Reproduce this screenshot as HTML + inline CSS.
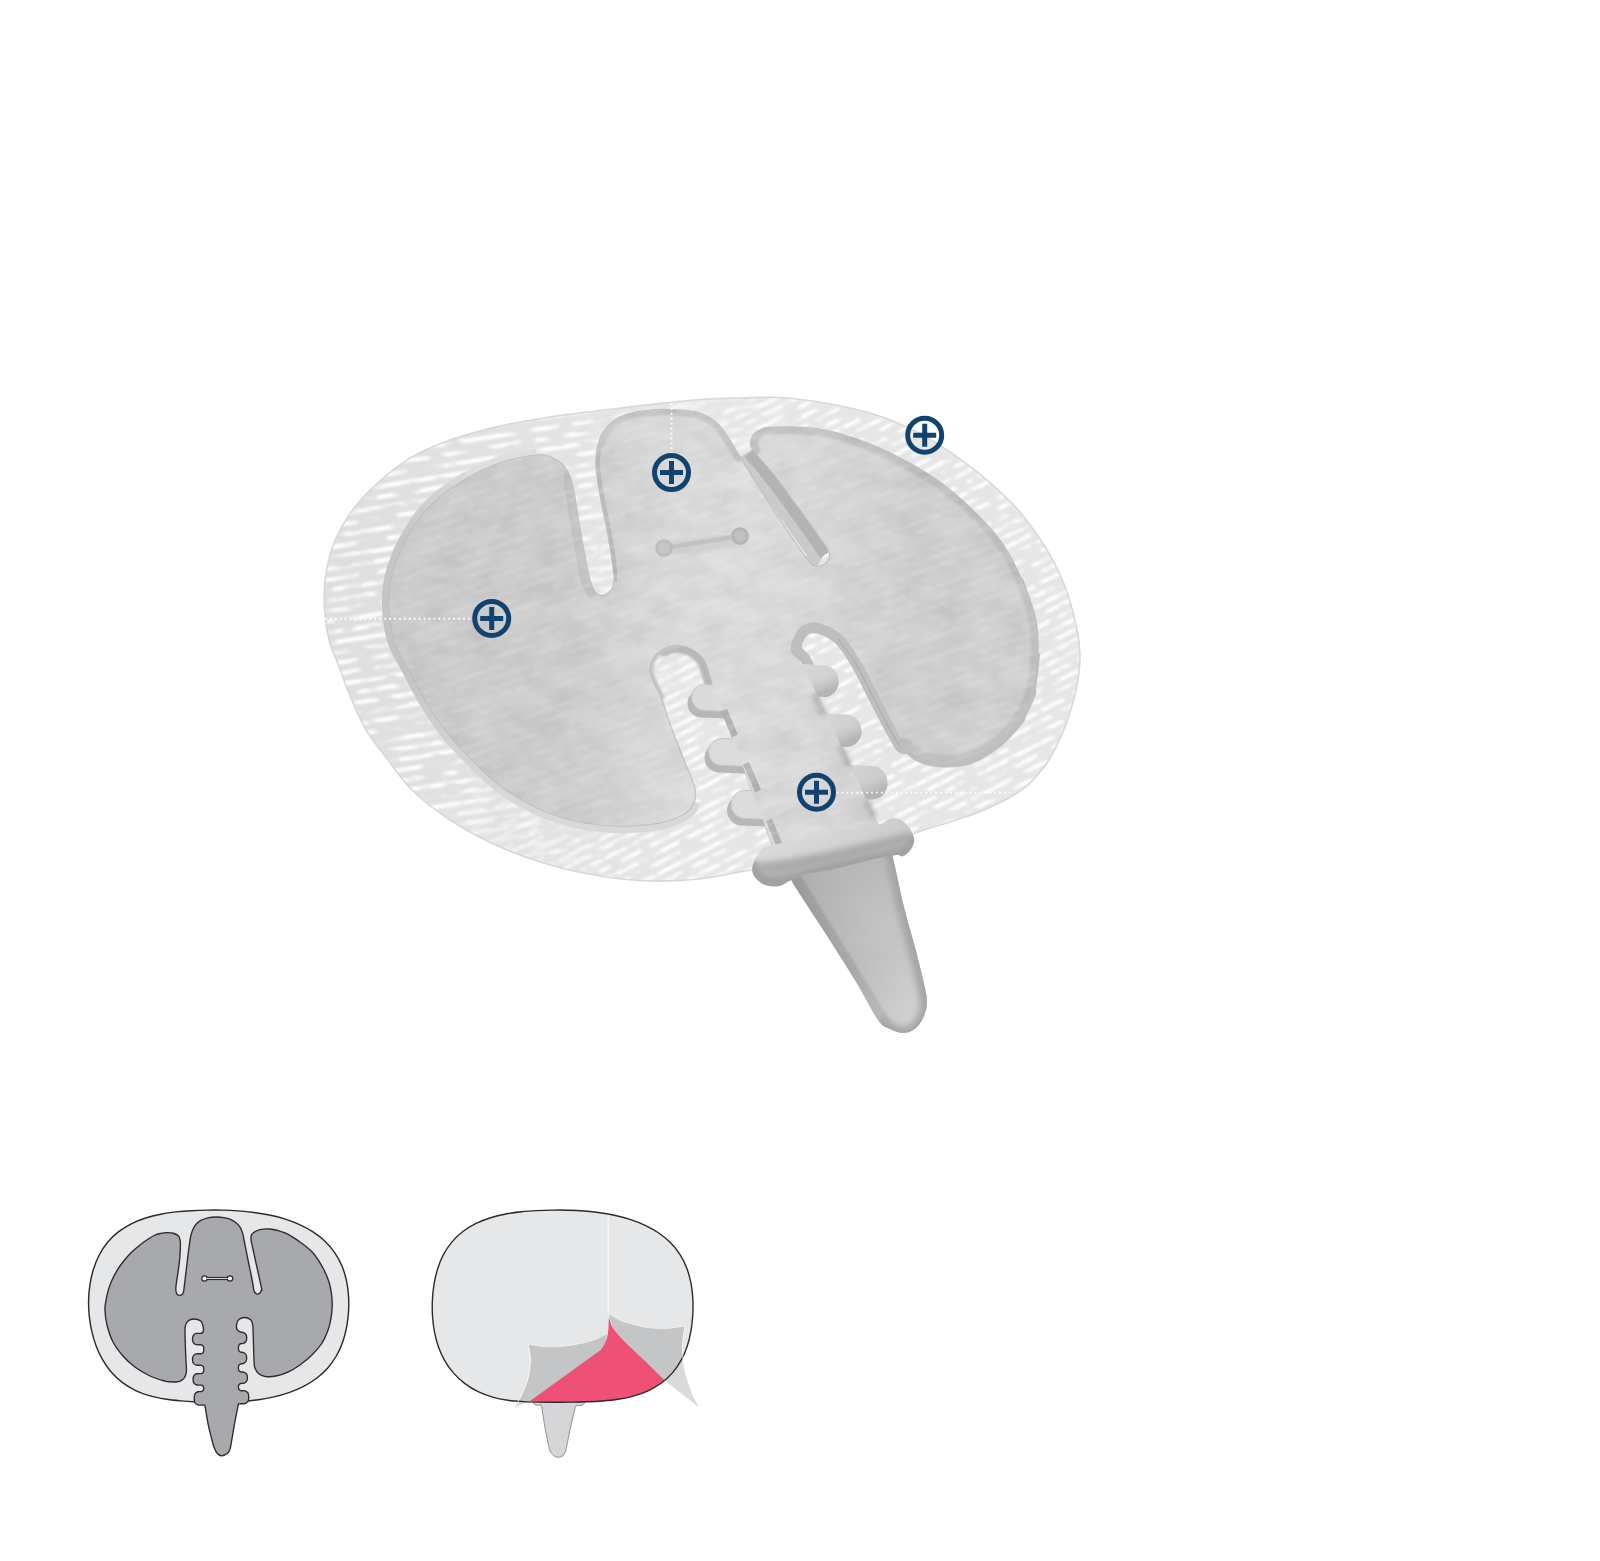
<!DOCTYPE html>
<html lang="en">
<head>
<meta charset="utf-8">
<title>Product hotspots</title>
<style>
html,body{margin:0;padding:0;background:#fff;}
body{width:1600px;height:1561px;overflow:hidden;font-family:"Liberation Sans",sans-serif;}
#stage{position:relative;width:1600px;height:1561px;}
svg{position:absolute;left:0;top:0;display:block;}
</style>
</head>
<body>
<div id="stage">
<svg width="1600" height="1561" viewBox="0 0 1600 1561">
<defs>
<linearGradient id="gSil" gradientUnits="userSpaceOnUse" x1="385" y1="0" x2="1040" y2="0">
<stop offset="0" stop-color="#c9c9c9"/><stop offset="0.28" stop-color="#cbcbcb"/><stop offset="0.42" stop-color="#d9d9d9"/>
<stop offset="0.55" stop-color="#dcdcdc"/><stop offset="0.68" stop-color="#d6d6d6"/><stop offset="0.8" stop-color="#cdcdcd"/><stop offset="1" stop-color="#cecece"/>
</linearGradient>
<linearGradient id="gCone" gradientUnits="userSpaceOnUse" x1="827" y1="936" x2="907.8" y2="886">
<stop offset="0" stop-color="#a5a5a5"/><stop offset="0.085" stop-color="#a9a9a9"/><stop offset="0.115" stop-color="#bcbcbc"/><stop offset="0.5" stop-color="#c4c4c4"/><stop offset="1" stop-color="#c6c6c6"/>
</linearGradient>
<linearGradient id="gConeAxis" gradientUnits="userSpaceOnUse" x1="840" y1="865" x2="905" y2="1030">
<stop offset="0" stop-color="#000" stop-opacity="0.07"/><stop offset="0.45" stop-color="#000" stop-opacity="0"/><stop offset="0.55" stop-color="#fff" stop-opacity="0"/><stop offset="1" stop-color="#fff" stop-opacity="0.3"/>
</linearGradient>
<pattern id="stripes" width="40" height="9.5" patternUnits="userSpaceOnUse" patternTransform="rotate(-19)">
<rect x="0" y="2" width="40" height="4" fill="#ffffff"/>
</pattern>
<pattern id="stripesA" width="40" height="10.5" patternUnits="userSpaceOnUse" patternTransform="rotate(-9)">
<rect x="0" y="2" width="40" height="4.5" fill="#ffffff"/>
</pattern>
<pattern id="stripesB" width="40" height="9.5" patternUnits="userSpaceOnUse" patternTransform="rotate(-27)">
<rect x="0" y="2" width="40" height="4" fill="#ffffff"/>
</pattern>
<linearGradient id="mgA" gradientUnits="userSpaceOnUse" x1="330" y1="560" x2="820" y2="760">
<stop offset="0" stop-color="#fff"/><stop offset="0.35" stop-color="#fff"/><stop offset="0.8" stop-color="#000"/><stop offset="1" stop-color="#000"/>
</linearGradient>
<linearGradient id="mgB" gradientUnits="userSpaceOnUse" x1="330" y1="560" x2="820" y2="760">
<stop offset="0" stop-color="#000"/><stop offset="0.3" stop-color="#000"/><stop offset="0.75" stop-color="#fff"/><stop offset="1" stop-color="#fff"/>
</linearGradient>
<mask id="maskA" maskUnits="userSpaceOnUse" x="300" y="380" width="800" height="520"><rect x="300" y="380" width="800" height="520" fill="url(#mgA)"/></mask>
<mask id="maskB" maskUnits="userSpaceOnUse" x="300" y="380" width="800" height="520"><rect x="300" y="380" width="800" height="520" fill="url(#mgB)"/></mask>
<filter id="streakB" x="0" y="0" width="100%" height="100%" color-interpolation-filters="sRGB">
<feTurbulence type="fractalNoise" baseFrequency="0.05 0.1" numOctaves="2" seed="23" result="n"/>
<feColorMatrix in="n" type="matrix" values="0 0 0 0 0  0 0 0 0 0  0 0 0 0 0  5 0 0 0 -1.85" result="a"/>
<feComposite in="SourceGraphic" in2="a" operator="in" result="c"/>
<feGaussianBlur in="c" stdDeviation="0.8"/>
</filter>
<filter id="streak" x="0" y="0" width="100%" height="100%" color-interpolation-filters="sRGB">
<feTurbulence type="fractalNoise" baseFrequency="0.045 0.09" numOctaves="2" seed="7" result="n"/>
<feColorMatrix in="n" type="matrix" values="0 0 0 0 0  0 0 0 0 0  0 0 0 0 0  5 0 0 0 -1.9" result="a"/>
<feComposite in="SourceGraphic" in2="a" operator="in" result="c"/>
<feGaussianBlur in="c" stdDeviation="0.8"/>
</filter>
<linearGradient id="gCollar" gradientUnits="userSpaceOnUse" x1="826" y1="832" x2="836" y2="880">
<stop offset="0" stop-color="#c8c8c8" stop-opacity="0"/><stop offset="0.3" stop-color="#c4c4c4" stop-opacity="0.15"/><stop offset="0.5" stop-color="#b4b4b4" stop-opacity="0.85"/><stop offset="0.78" stop-color="#adadad" stop-opacity="1"/><stop offset="1" stop-color="#b8b8b8" stop-opacity="1"/>
</linearGradient>
<linearGradient id="gFab" gradientUnits="userSpaceOnUse" x1="320" y1="0" x2="1080" y2="0">
<stop offset="0" stop-color="#dedede"/><stop offset="0.25" stop-color="#e2e2e2"/><stop offset="0.5" stop-color="#e6e6e6"/><stop offset="1" stop-color="#e6e6e6"/>
</linearGradient>
<linearGradient id="gRidge" x1="0.25" y1="0" x2="0.9" y2="1">
<stop offset="0" stop-color="#dddddd" stop-opacity="0.25"/><stop offset="0.5" stop-color="#b0b0b0" stop-opacity="0.1"/><stop offset="1" stop-color="#8c8c8c" stop-opacity="0.6"/>
</linearGradient>
<linearGradient id="gRim" gradientUnits="userSpaceOnUse" x1="0" y1="470" x2="0" y2="800">
<stop offset="0" stop-color="#dedede"/><stop offset="0.06" stop-color="#d2d2d2"/><stop offset="0.2" stop-color="#c6c6c6"/><stop offset="0.6" stop-color="#c3c3c3"/><stop offset="0.85" stop-color="#d3d3d3"/><stop offset="1" stop-color="#d8d8d8"/>
</linearGradient>
<filter id="soft" x="-5%" y="-5%" width="110%" height="110%"><feGaussianBlur stdDeviation="0.7"/></filter>
<filter id="mottle" x="0" y="0" width="100%" height="100%" color-interpolation-filters="sRGB">
<feTurbulence type="fractalNoise" baseFrequency="0.03 0.045" numOctaves="3" seed="5" result="n"/>
<feColorMatrix in="n" type="matrix" values="0.9 0 0 0 0.36  0.9 0 0 0 0.36  0.9 0 0 0 0.36  0 0 0 0 1"/>
</filter>
<filter id="blur1" x="-20%" y="-20%" width="140%" height="140%"><feGaussianBlur stdDeviation="1.3"/></filter>
<filter id="blur3" x="-30%" y="-30%" width="160%" height="160%"><feGaussianBlur stdDeviation="3"/></filter>
<filter id="blur2" x="-20%" y="-20%" width="140%" height="140%"><feGaussianBlur stdDeviation="2"/></filter>
<filter id="blur4" x="-20%" y="-20%" width="140%" height="140%"><feGaussianBlur stdDeviation="4"/></filter>

<path id="silShape" d="M537.0 455.0C546.2 454.3 550.0 456.5 555.0 459.0C560.0 461.5 564.0 465.3 567.0 470.0C570.0 474.7 571.3 480.3 573.0 487.0C574.7 493.7 575.3 500.3 577.0 510.0C578.7 519.7 580.8 533.3 583.0 545.0C585.2 556.7 587.7 571.8 590.0 580.0C592.3 588.2 594.2 591.7 597.0 594.0C599.8 596.3 604.2 596.0 607.0 594.0C609.8 592.0 613.2 587.7 614.0 582.0C614.8 576.3 613.2 568.7 612.0 560.0C610.8 551.3 609.0 540.8 607.0 530.0C605.0 519.2 601.8 505.8 600.0 495.0C598.2 484.2 596.3 473.3 596.0 465.0C595.7 456.7 596.3 451.2 598.0 445.0C599.7 438.8 602.0 432.8 606.0 428.0C610.0 423.2 614.7 419.0 622.0 416.0C629.3 413.0 640.3 411.0 650.0 410.0C659.7 409.0 671.7 409.5 680.0 410.0C688.3 410.5 694.0 411.0 700.0 413.0C706.0 415.0 711.3 418.0 716.0 422.0C720.7 426.0 724.0 431.2 728.0 437.0C732.0 442.8 734.3 447.8 740.0 457.0C745.7 466.2 754.2 479.8 762.0 492.0C769.8 504.2 779.3 518.7 787.0 530.0C794.7 541.3 803.0 554.0 808.0 560.0C813.0 566.0 813.8 565.7 817.0 566.0C820.2 566.3 825.0 564.3 827.0 562.0C829.0 559.7 830.2 556.0 829.0 552.0C827.8 548.0 825.7 546.2 820.0 538.0C814.3 529.8 803.3 514.3 795.0 503.0C786.7 491.7 777.0 478.8 770.0 470.0C763.0 461.2 756.2 455.0 753.0 450.0C749.8 445.0 750.2 443.2 751.0 440.0C751.8 436.8 754.0 433.2 758.0 431.0C762.0 428.8 763.8 427.2 775.0 427.0C786.2 426.8 808.3 426.8 825.0 430.0C841.7 433.2 858.3 439.0 875.0 446.0C891.7 453.0 910.5 463.0 925.0 472.0C939.5 481.0 949.5 488.7 962.0 500.0C974.5 511.3 990.0 526.7 1000.0 540.0C1010.0 553.3 1016.2 566.7 1022.0 580.0C1027.8 593.3 1032.5 607.5 1035.0 620.0C1037.5 632.5 1037.5 643.0 1037.0 655.0C1036.5 667.0 1034.8 681.5 1032.0 692.0C1029.2 702.5 1025.5 709.8 1020.0 718.0C1014.5 726.2 1007.2 734.3 999.0 741.0C990.8 747.7 980.0 754.5 971.0 758.0C962.0 761.5 953.5 762.2 945.0 762.0C936.5 761.8 926.8 760.0 920.0 757.0C913.2 754.0 908.8 750.0 904.0 744.0C899.2 738.0 895.8 730.0 891.0 721.0C886.2 712.0 880.2 700.0 875.0 690.0C869.8 680.0 865.5 670.0 860.0 661.0C854.5 652.0 848.7 642.2 842.0 636.0C835.3 629.8 826.5 625.7 820.0 624.0C813.5 622.3 807.5 623.3 803.0 626.0C798.5 628.7 794.8 635.7 793.0 640.0C791.2 644.3 790.7 648.5 792.0 652.0C793.3 655.5 798.0 658.0 801.0 661.0C828.0 718.3 855.0 775.7 882.0 833.0C847.0 841.3 812.0 849.7 777.0 858.0C755.3 799.7 733.7 741.3 712.0 683.0C711.5 681.3 711.8 681.8 710.5 678.0C709.2 674.2 707.2 664.8 704.0 660.0C700.8 655.2 696.2 651.4 691.5 649.0C686.8 646.6 680.6 645.6 676.0 645.5C671.4 645.4 667.8 646.3 664.0 648.5C660.2 650.7 655.3 654.8 653.0 658.5C650.7 662.2 649.8 666.9 650.0 671.0C650.2 675.1 652.2 678.7 654.0 683.0C655.8 687.3 658.7 691.2 661.0 697.0C663.3 702.8 665.5 710.8 668.0 718.0C670.5 725.2 673.3 733.0 676.0 740.0C678.7 747.0 681.4 753.7 684.0 760.0C686.6 766.3 689.7 773.2 691.5 778.0C693.3 782.8 694.5 785.2 695.0 789.0C695.5 792.8 695.8 797.2 694.5 801.0C693.2 804.8 691.4 808.7 687.0 812.0C682.6 815.3 675.0 818.8 668.0 821.0C661.0 823.2 654.3 824.2 645.0 825.0C635.7 825.8 623.7 826.7 612.0 826.0C600.3 825.3 587.5 824.0 575.0 821.0C562.5 818.0 549.5 813.8 537.0 808.0C524.5 802.2 511.2 794.3 500.0 786.0C488.8 777.7 479.2 767.3 470.0 758.0C460.8 748.7 452.5 739.7 445.0 730.0C437.5 720.3 431.2 710.3 425.0 700.0C418.8 689.7 413.2 678.0 408.0 668.0C402.8 658.0 397.2 650.5 394.0 640.0C390.8 629.5 389.3 615.8 389.0 605.0C388.7 594.2 389.3 585.5 392.0 575.0C394.7 564.5 399.0 553.2 405.0 542.0C411.0 530.8 418.2 518.3 428.0 508.0C437.8 497.7 452.0 487.5 464.0 480.0C476.0 472.5 487.8 467.2 500.0 463.0C512.2 458.8 527.8 455.7 537.0 455.0Z"/>
<clipPath id="clipFab"><path d="M700.0 399.5C715.0 398.4 726.7 398.3 740.0 398.0C753.3 397.7 765.8 396.7 780.0 397.5C794.2 398.3 809.2 400.2 825.0 403.0C840.8 405.8 860.0 409.8 875.0 414.5C890.0 419.2 902.5 424.8 915.0 431.0C927.5 437.2 938.0 443.8 950.0 452.0C962.0 460.2 975.3 470.0 987.0 480.0C998.7 490.0 1009.5 499.5 1020.0 512.0C1030.5 524.5 1042.2 541.7 1050.0 555.0C1057.8 568.3 1062.5 579.5 1067.0 592.0C1071.5 604.5 1074.8 619.5 1077.0 630.0C1079.2 640.5 1079.8 646.7 1080.0 655.0C1080.2 663.3 1079.2 672.0 1078.0 680.0C1076.8 688.0 1075.5 694.3 1073.0 703.0C1070.5 711.7 1067.0 722.5 1063.0 732.0C1059.0 741.5 1054.8 751.2 1049.0 760.0C1043.2 768.8 1035.0 778.5 1028.0 785.0C1021.0 791.5 1015.2 794.5 1007.0 799.0C998.8 803.5 988.5 808.2 979.0 812.0C969.5 815.8 960.7 818.5 950.0 822.0C939.3 825.5 926.7 828.7 915.0 833.0C903.3 837.3 895.8 843.2 880.0 848.0C864.2 852.8 841.3 858.3 820.0 862.0C798.7 865.7 772.0 867.2 752.0 870.0C732.0 872.8 717.0 877.2 700.0 879.0C683.0 880.8 666.7 881.5 650.0 881.0C633.3 880.5 616.7 878.7 600.0 876.0C583.3 873.3 566.7 869.8 550.0 865.0C533.3 860.2 516.7 854.5 500.0 847.0C483.3 839.5 464.7 829.5 450.0 820.0C435.3 810.5 422.3 800.0 412.0 790.0C401.7 780.0 395.7 770.0 388.0 760.0C380.3 750.0 372.3 740.7 366.0 730.0C359.7 719.3 354.7 707.0 350.0 696.0C345.3 685.0 341.5 673.3 338.0 664.0C334.5 654.7 331.2 649.0 329.0 640.0C326.8 631.0 325.1 620.5 324.5 610.0C323.9 599.5 323.9 588.2 325.5 577.0C327.1 565.8 329.2 554.5 334.0 543.0C338.8 531.5 346.2 518.5 354.0 508.0C361.8 497.5 371.3 488.5 381.0 480.0C390.7 471.5 400.5 463.7 412.0 457.0C423.5 450.3 435.3 445.2 450.0 440.0C464.7 434.8 483.3 429.8 500.0 426.0C516.7 422.2 533.3 419.6 550.0 417.0C566.7 414.4 583.3 412.6 600.0 410.5C616.7 408.4 633.3 406.3 650.0 404.5C666.7 402.7 685.0 400.6 700.0 399.5Z"/></clipPath>
<clipPath id="clipSil"><use href="#silShape"/></clipPath>
</defs>
<g clip-path="url(#clipFab)">
<rect x="300" y="380" width="800" height="520" fill="url(#gFab)"/>
<g mask="url(#maskA)"><rect x="300" y="380" width="800" height="520" fill="url(#stripesA)" filter="url(#streak)" opacity="0.95"/></g>
<g mask="url(#maskB)"><rect x="300" y="380" width="800" height="520" fill="url(#stripesB)" filter="url(#streakB)" opacity="0.95"/></g>
</g>
<path d="M700.0 399.5C715.0 398.4 726.7 398.3 740.0 398.0C753.3 397.7 765.8 396.7 780.0 397.5C794.2 398.3 809.2 400.2 825.0 403.0C840.8 405.8 860.0 409.8 875.0 414.5C890.0 419.2 902.5 424.8 915.0 431.0C927.5 437.2 938.0 443.8 950.0 452.0C962.0 460.2 975.3 470.0 987.0 480.0C998.7 490.0 1009.5 499.5 1020.0 512.0C1030.5 524.5 1042.2 541.7 1050.0 555.0C1057.8 568.3 1062.5 579.5 1067.0 592.0C1071.5 604.5 1074.8 619.5 1077.0 630.0C1079.2 640.5 1079.8 646.7 1080.0 655.0C1080.2 663.3 1079.2 672.0 1078.0 680.0C1076.8 688.0 1075.5 694.3 1073.0 703.0C1070.5 711.7 1067.0 722.5 1063.0 732.0C1059.0 741.5 1054.8 751.2 1049.0 760.0C1043.2 768.8 1035.0 778.5 1028.0 785.0C1021.0 791.5 1015.2 794.5 1007.0 799.0C998.8 803.5 988.5 808.2 979.0 812.0C969.5 815.8 960.7 818.5 950.0 822.0C939.3 825.5 926.7 828.7 915.0 833.0C903.3 837.3 895.8 843.2 880.0 848.0C864.2 852.8 841.3 858.3 820.0 862.0C798.7 865.7 772.0 867.2 752.0 870.0C732.0 872.8 717.0 877.2 700.0 879.0C683.0 880.8 666.7 881.5 650.0 881.0C633.3 880.5 616.7 878.7 600.0 876.0C583.3 873.3 566.7 869.8 550.0 865.0C533.3 860.2 516.7 854.5 500.0 847.0C483.3 839.5 464.7 829.5 450.0 820.0C435.3 810.5 422.3 800.0 412.0 790.0C401.7 780.0 395.7 770.0 388.0 760.0C380.3 750.0 372.3 740.7 366.0 730.0C359.7 719.3 354.7 707.0 350.0 696.0C345.3 685.0 341.5 673.3 338.0 664.0C334.5 654.7 331.2 649.0 329.0 640.0C326.8 631.0 325.1 620.5 324.5 610.0C323.9 599.5 323.9 588.2 325.5 577.0C327.1 565.8 329.2 554.5 334.0 543.0C338.8 531.5 346.2 518.5 354.0 508.0C361.8 497.5 371.3 488.5 381.0 480.0C390.7 471.5 400.5 463.7 412.0 457.0C423.5 450.3 435.3 445.2 450.0 440.0C464.7 434.8 483.3 429.8 500.0 426.0C516.7 422.2 533.3 419.6 550.0 417.0C566.7 414.4 583.3 412.6 600.0 410.5C616.7 408.4 633.3 406.3 650.0 404.5C666.7 402.7 685.0 400.6 700.0 399.5Z" fill="none" stroke="#d2d2d2" stroke-width="1.6" opacity="0.8" filter="url(#soft)"/>
<g fill="none" stroke-linecap="butt" stroke-linejoin="round" filter="url(#soft)">
<path d="M694.5 801.0C693.2 802.8 691.4 808.7 687.0 812.0C682.6 815.3 675.0 818.8 668.0 821.0C661.0 823.2 654.3 824.2 645.0 825.0C635.7 825.8 623.7 826.7 612.0 826.0C600.3 825.3 587.5 824.0 575.0 821.0C562.5 818.0 549.5 813.8 537.0 808.0C524.5 802.2 511.2 794.3 500.0 786.0C488.8 777.7 479.2 767.3 470.0 758.0C460.8 748.7 452.5 739.7 445.0 730.0C437.5 720.3 431.2 710.3 425.0 700.0C418.8 689.7 413.2 678.0 408.0 668.0C402.8 658.0 397.2 650.5 394.0 640.0C390.8 629.5 389.3 615.8 389.0 605.0C388.7 594.2 389.3 585.5 392.0 575.0C394.7 564.5 399.0 553.2 405.0 542.0C411.0 530.8 418.2 518.3 428.0 508.0C437.8 497.7 452.0 487.5 464.0 480.0C476.0 472.5 487.8 467.2 500.0 463.0C512.2 458.8 530.8 456.3 537.0 455.0" stroke="url(#gRim)" stroke-width="14"/>
<path d="M740.0 457.0C743.7 462.8 754.2 479.8 762.0 492.0C769.8 504.2 779.3 518.7 787.0 530.0C794.7 541.3 803.0 554.0 808.0 560.0C813.0 566.0 815.5 565.0 817.0 566.0" stroke="#cacaca" stroke-width="36"/>
<path d="M829.0 552.0C827.5 549.7 825.7 546.2 820.0 538.0C814.3 529.8 803.3 514.3 795.0 503.0C786.7 491.7 777.0 478.8 770.0 470.0C763.0 461.2 755.8 453.3 753.0 450.0" stroke="#b3b3b3" stroke-width="22"/>
<path d="M1022.0 580.0C1024.2 586.7 1032.5 607.5 1035.0 620.0C1037.5 632.5 1037.5 643.0 1037.0 655.0C1036.5 667.0 1034.8 681.5 1032.0 692.0C1029.2 702.5 1025.5 709.8 1020.0 718.0C1014.5 726.2 1007.2 734.3 999.0 741.0C990.8 747.7 980.0 754.5 971.0 758.0C962.0 761.5 953.5 762.2 945.0 762.0C936.5 761.8 926.8 760.0 920.0 757.0C913.2 754.0 906.7 746.2 904.0 744.0" stroke="#bebebe" stroke-width="3" stroke-linecap="round"/>
<path d="M1037.0 655.0C1036.2 661.2 1034.8 681.5 1032.0 692.0C1029.2 702.5 1025.5 709.8 1020.0 718.0C1014.5 726.2 1007.2 734.3 999.0 741.0C990.8 747.7 980.0 754.5 971.0 758.0C962.0 761.5 953.5 762.2 945.0 762.0C936.5 761.8 926.8 760.0 920.0 757.0C913.2 754.0 906.7 746.2 904.0 744.0" stroke="#bebebe" stroke-width="6" stroke-linecap="round"/>
<path d="M1032.0 692.0C1030.0 696.3 1025.5 709.8 1020.0 718.0C1014.5 726.2 1007.2 734.3 999.0 741.0C990.8 747.7 980.0 754.5 971.0 758.0C962.0 761.5 953.5 762.2 945.0 762.0C936.5 761.8 926.8 760.0 920.0 757.0C913.2 754.0 906.7 746.2 904.0 744.0" stroke="#bebebe" stroke-width="9" stroke-linecap="round"/>
<path d="M1020.0 718.0C1016.5 721.8 1007.2 734.3 999.0 741.0C990.8 747.7 980.0 754.5 971.0 758.0C962.0 761.5 953.5 762.2 945.0 762.0C936.5 761.8 926.8 760.0 920.0 757.0C913.2 754.0 906.7 746.2 904.0 744.0" stroke="#bebebe" stroke-width="11" stroke-linecap="round"/>
<path d="M904.0 744.0C901.8 740.2 895.8 730.0 891.0 721.0C886.2 712.0 880.2 700.0 875.0 690.0C869.8 680.0 865.5 670.0 860.0 661.0C854.5 652.0 848.7 642.2 842.0 636.0C835.3 629.8 826.5 625.7 820.0 624.0C813.5 622.3 807.5 623.3 803.0 626.0C798.5 628.7 794.8 635.7 793.0 640.0C791.2 644.3 792.2 650.0 792.0 652.0 L801 661 L809 678" stroke="#bebebe" stroke-width="20" stroke-linecap="round"/>
<path d="M904.0 744.0C901.8 740.2 895.8 730.0 891.0 721.0C886.2 712.0 880.2 700.0 875.0 690.0C869.8 680.0 865.5 670.0 860.0 661.0C854.5 652.0 845.0 640.2 842.0 636.0" stroke="#adadad" stroke-width="1.2" transform="translate(-4,3)"/>
<path d="M712.0 683.0C711.8 682.2 711.8 681.8 710.5 678.0C709.2 674.2 707.2 664.8 704.0 660.0C700.8 655.2 696.2 651.4 691.5 649.0C686.8 646.6 680.6 645.6 676.0 645.5C671.4 645.4 666.0 648.0 664.0 648.5" stroke="#b8b8b8" stroke-width="15" stroke-linecap="round" filter="url(#blur1)"/>
<path d="M676.0 645.5C674.0 646.0 667.8 646.3 664.0 648.5C660.2 650.7 655.3 654.8 653.0 658.5C650.7 662.2 649.8 666.9 650.0 671.0C650.2 675.1 652.2 678.7 654.0 683.0C655.8 687.3 659.8 694.7 661.0 697.0" stroke="#c4c4c4" stroke-width="7" stroke-linecap="round" filter="url(#blur1)"/>
</g>
<path d="M748 474 L806 556" stroke="#ededed" stroke-width="2" fill="none" stroke-linecap="round" filter="url(#soft)"/>
<g filter="url(#soft)">
<use href="#silShape" fill="url(#gSil)" stroke="#bebebe" stroke-width="1.2"/>
</g>
<g fill="none" stroke-linecap="butt" clip-path="url(#clipSil)" filter="url(#soft)">
<path d="M567.0 470.0C568.0 472.8 571.3 480.3 573.0 487.0C574.7 493.7 575.3 500.3 577.0 510.0C578.7 519.7 580.8 533.3 583.0 545.0C585.2 556.7 587.7 571.8 590.0 580.0C592.3 588.2 595.8 591.7 597.0 594.0" stroke="#bfbfbf" stroke-width="18"/>
<path d="M614.0 582.0C613.7 578.3 613.2 568.7 612.0 560.0C610.8 551.3 609.0 540.8 607.0 530.0C605.0 519.2 601.8 505.8 600.0 495.0C598.2 484.2 596.3 473.3 596.0 465.0C595.7 456.7 597.7 448.3 598.0 445.0" stroke="#b9b9b9" stroke-width="8"/>
</g>
<g fill="none" stroke-linecap="round" clip-path="url(#clipSil)" filter="url(#blur1)">
<path d="M598.0 445.0C599.3 442.2 602.0 432.8 606.0 428.0C610.0 423.2 614.7 419.0 622.0 416.0C629.3 413.0 640.3 411.0 650.0 410.0C659.7 409.0 671.7 409.5 680.0 410.0C688.3 410.5 694.0 411.0 700.0 413.0C706.0 415.0 711.3 418.0 716.0 422.0C720.7 426.0 724.0 431.2 728.0 437.0C732.0 442.8 738.0 453.7 740.0 457.0" stroke="#c3c3c3" stroke-width="12"/>
<path d="M753.0 450.0C752.7 448.3 750.2 443.2 751.0 440.0C751.8 436.8 754.0 433.2 758.0 431.0C762.0 428.8 763.8 427.2 775.0 427.0C786.2 426.8 808.3 426.8 825.0 430.0C841.7 433.2 858.3 439.0 875.0 446.0C891.7 453.0 916.7 467.7 925.0 472.0" stroke="#bfbfbf" stroke-width="14"/>
<path d="M925.0 472.0C931.2 476.7 949.5 488.7 962.0 500.0C974.5 511.3 990.0 526.7 1000.0 540.0C1010.0 553.3 1016.2 566.7 1022.0 580.0C1027.8 593.3 1032.5 607.5 1035.0 620.0C1037.5 632.5 1037.5 643.0 1037.0 655.0C1036.5 667.0 1034.8 681.5 1032.0 692.0C1029.2 702.5 1025.5 709.8 1020.0 718.0C1014.5 726.2 1007.2 734.3 999.0 741.0C990.8 747.7 980.0 754.5 971.0 758.0C962.0 761.5 953.5 762.2 945.0 762.0C936.5 761.8 926.8 760.0 920.0 757.0C913.2 754.0 906.7 746.2 904.0 744.0" stroke="#bebebe" stroke-width="13"/>
</g>
<g filter="url(#soft)">
<path d="M729.5 712.5 L704.0 711.5 A14.0 14.0 0 0 1 705.0 683.5 L730.5 684.5 A14.0 14.0 0 0 1 729.5 712.5 Z" fill="#b7b7b7" transform="translate(-3,6)"/>
<path d="M747.4 767.5 L721.4 766.5 A14.5 14.5 0 0 1 722.6 737.5 L748.6 738.5 A14.5 14.5 0 0 1 747.4 767.5 Z" fill="#b7b7b7" transform="translate(-3,6)"/>
<path d="M769.4 820.5 L744.4 819.5 A15.0 15.0 0 0 1 745.6 789.5 L770.6 790.5 A15.0 15.0 0 0 1 769.4 820.5 Z" fill="#b7b7b7" transform="translate(-3,6)"/>
<path d="M800.9 663.5 L824.9 665.0 A14.5 14.5 0 0 1 823.1 694.0 L799.1 692.5 A14.5 14.5 0 0 1 800.9 663.5 Z" fill="#b4b4b4" transform="translate(0,3)"/>
<path d="M822.6 713.0 L847.1 714.0 A15.0 15.0 0 0 1 845.9 744.0 L821.4 743.0 A15.0 15.0 0 0 1 822.6 713.0 Z" fill="#b4b4b4" transform="translate(0,3)"/>
<path d="M846.6 764.5 L872.6 765.5 A15.5 15.5 0 0 1 871.4 796.5 L845.4 795.5 A15.5 15.5 0 0 1 846.6 764.5 Z" fill="#b4b4b4" transform="translate(0,3)"/>
<path d="M729.5 711.5 L704.0 710.5 A13.0 13.0 0 0 1 705.0 684.5 L730.5 685.5 A13.0 13.0 0 0 1 729.5 711.5 Z" fill="url(#gSil)" stroke="#c6c6c6" stroke-width="1"/>
<path d="M747.5 766.5 L721.5 765.5 A13.5 13.5 0 0 1 722.5 738.5 L748.5 739.5 A13.5 13.5 0 0 1 747.5 766.5 Z" fill="url(#gSil)" stroke="#c6c6c6" stroke-width="1"/>
<path d="M769.4 819.5 L744.4 818.5 A14.0 14.0 0 0 1 745.6 790.5 L770.6 791.5 A14.0 14.0 0 0 1 769.4 819.5 Z" fill="url(#gSil)" stroke="#c6c6c6" stroke-width="1"/>
<path d="M800.9 664.0 L824.9 665.5 A14.0 14.0 0 0 1 823.1 693.5 L799.1 692.0 A14.0 14.0 0 0 1 800.9 664.0 Z" fill="url(#gSil)"/>
<path d="M800.9 664.0 L824.9 665.5 A14.0 14.0 0 0 1 823.1 693.5 L799.1 692.0 A14.0 14.0 0 0 1 800.9 664.0 Z" fill="url(#gRidge)"/>
<path d="M822.6 713.5 L847.1 714.5 A14.5 14.5 0 0 1 845.9 743.5 L821.4 742.5 A14.5 14.5 0 0 1 822.6 713.5 Z" fill="url(#gSil)"/>
<path d="M822.6 713.5 L847.1 714.5 A14.5 14.5 0 0 1 845.9 743.5 L821.4 742.5 A14.5 14.5 0 0 1 822.6 713.5 Z" fill="url(#gRidge)"/>
<path d="M846.6 765.0 L872.6 766.0 A15.0 15.0 0 0 1 871.4 796.0 L845.4 795.0 A15.0 15.0 0 0 1 846.6 765.0 Z" fill="url(#gSil)"/>
<path d="M846.6 765.0 L872.6 766.0 A15.0 15.0 0 0 1 871.4 796.0 L845.4 795.0 A15.0 15.0 0 0 1 846.6 765.0 Z" fill="url(#gRidge)"/>
<path d="M801 661 L882 833 L777 858 L712 683 Z" fill="url(#gSil)"/>
<path d="M722 711 L733 737 M744 764 L756 792 M767 821 L777 845" stroke="#adadad" stroke-width="6.5" fill="none" transform="translate(2,-1)"/>
</g>
<path d="M817 694 L827 716 M842 745 L853 767 M869 800 L877 818" stroke="#b2b2b2" stroke-width="7" fill="none" transform="translate(-3,0)" filter="url(#blur2)" opacity="0.8"/>
<g clip-path="url(#clipSil)" opacity="0.1"><rect x="380" y="400" width="670" height="470" filter="url(#mottle)"/></g>
<g clip-path="url(#clipSil)" opacity="0.13">
<rect x="380" y="400" width="670" height="450" fill="url(#stripes)" filter="url(#streak)"/>
</g>
<g filter="url(#soft)">
<path d="M780.0 858.0C783.3 864.7 786.5 871.7 790.0 878.0C793.5 884.3 794.8 886.3 801.0 896.0C807.2 905.7 817.8 921.7 827.0 936.0C836.2 950.3 847.5 968.0 856.0 982.0C864.5 996.0 872.3 1012.2 878.0 1020.0C883.7 1027.8 885.7 1026.8 890.0 1029.0C894.3 1031.2 899.7 1033.2 904.0 1033.0C908.3 1032.8 912.7 1030.8 916.0 1028.0C919.3 1025.2 922.2 1020.2 924.0 1016.0C925.8 1011.8 926.8 1007.7 927.0 1003.0C927.2 998.3 926.8 996.7 925.0 988.0C923.2 979.3 919.5 964.5 916.0 951.0C912.5 937.5 907.8 922.5 904.0 907.0C900.2 891.5 895.7 868.8 893.0 858.0C890.3 847.2 889.7 847.3 888.0 842.0C852.0 847.3 816.0 852.7 780.0 858.0Z" fill="url(#gCone)"/>
<path d="M780.0 858.0C783.3 864.7 786.5 871.7 790.0 878.0C793.5 884.3 794.8 886.3 801.0 896.0C807.2 905.7 817.8 921.7 827.0 936.0C836.2 950.3 847.5 968.0 856.0 982.0C864.5 996.0 872.3 1012.2 878.0 1020.0C883.7 1027.8 885.7 1026.8 890.0 1029.0C894.3 1031.2 899.7 1033.2 904.0 1033.0C908.3 1032.8 912.7 1030.8 916.0 1028.0C919.3 1025.2 922.2 1020.2 924.0 1016.0C925.8 1011.8 926.8 1007.7 927.0 1003.0C927.2 998.3 926.8 996.7 925.0 988.0C923.2 979.3 919.5 964.5 916.0 951.0C912.5 937.5 907.8 922.5 904.0 907.0C900.2 891.5 895.7 868.8 893.0 858.0C890.3 847.2 889.7 847.3 888.0 842.0C852.0 847.3 816.0 852.7 780.0 858.0Z" fill="url(#gConeAxis)"/>
<clipPath id="clipCone"><path d="M780.0 858.0C783.3 864.7 786.5 871.7 790.0 878.0C793.5 884.3 794.8 886.3 801.0 896.0C807.2 905.7 817.8 921.7 827.0 936.0C836.2 950.3 847.5 968.0 856.0 982.0C864.5 996.0 872.3 1012.2 878.0 1020.0C883.7 1027.8 885.7 1026.8 890.0 1029.0C894.3 1031.2 899.7 1033.2 904.0 1033.0C908.3 1032.8 912.7 1030.8 916.0 1028.0C919.3 1025.2 922.2 1020.2 924.0 1016.0C925.8 1011.8 926.8 1007.7 927.0 1003.0C927.2 998.3 926.8 996.7 925.0 988.0C923.2 979.3 919.5 964.5 916.0 951.0C912.5 937.5 907.8 922.5 904.0 907.0C900.2 891.5 895.7 868.8 893.0 858.0C890.3 847.2 889.7 847.3 888.0 842.0C852.0 847.3 816.0 852.7 780.0 858.0Z"/></clipPath>
<g clip-path="url(#clipCone)"><path d="M890 842 L893 858 L904 907 L916 951 L925 988 L928 1004 L925 1018 L916 1030 L904 1035 L890 1031 L878 1022" stroke="#a2a2a2" stroke-width="15" fill="none" stroke-linejoin="round" filter="url(#blur3)" opacity="0.9"/></g>
<path d="M777.7 844.0C767.0 846.1 769.0 844.7 765.5 846.5C762.0 848.3 759.2 851.3 757.0 855.0C754.8 858.7 752.5 864.8 752.3 868.6C752.1 872.4 753.5 875.3 755.7 878.0C757.9 880.7 761.5 883.7 765.4 885.0C769.3 886.3 775.1 886.7 779.0 886.0C782.9 885.3 785.0 882.8 789.0 881.0C793.0 879.2 796.2 876.8 803.0 875.0C809.8 873.2 818.8 872.5 830.0 870.0C841.2 867.5 859.0 862.5 870.0 860.0C881.0 857.5 890.5 855.7 896.0 855.0C901.5 854.3 900.5 857.0 903.0 856.0C905.5 855.0 909.2 851.9 911.0 849.0C912.8 846.1 914.5 842.2 914.0 838.4C913.5 834.6 910.5 829.2 908.0 826.0C905.5 822.8 901.9 820.2 898.7 819.0C895.5 817.8 892.5 818.1 889.0 819.0C885.5 819.9 887.8 822.1 878.0 824.6C868.2 827.1 846.7 830.8 830.0 834.0C813.3 837.2 788.5 841.9 777.7 844.0Z" fill="url(#gSil)"/>
<path d="M777.7 844.0C767.0 846.1 769.0 844.7 765.5 846.5C762.0 848.3 759.2 851.3 757.0 855.0C754.8 858.7 752.5 864.8 752.3 868.6C752.1 872.4 753.5 875.3 755.7 878.0C757.9 880.7 761.5 883.7 765.4 885.0C769.3 886.3 775.1 886.7 779.0 886.0C782.9 885.3 785.0 882.8 789.0 881.0C793.0 879.2 796.2 876.8 803.0 875.0C809.8 873.2 818.8 872.5 830.0 870.0C841.2 867.5 859.0 862.5 870.0 860.0C881.0 857.5 890.5 855.7 896.0 855.0C901.5 854.3 900.5 857.0 903.0 856.0C905.5 855.0 909.2 851.9 911.0 849.0C912.8 846.1 914.5 842.2 914.0 838.4C913.5 834.6 910.5 829.2 908.0 826.0C905.5 822.8 901.9 820.2 898.7 819.0C895.5 817.8 892.5 818.1 889.0 819.0C885.5 819.9 887.8 822.1 878.0 824.6C868.2 827.1 846.7 830.8 830.0 834.0C813.3 837.2 788.5 841.9 777.7 844.0Z" fill="url(#gCollar)"/>
<clipPath id="clipCollar"><path d="M777.7 844.0C767.0 846.1 769.0 844.7 765.5 846.5C762.0 848.3 759.2 851.3 757.0 855.0C754.8 858.7 752.5 864.8 752.3 868.6C752.1 872.4 753.5 875.3 755.7 878.0C757.9 880.7 761.5 883.7 765.4 885.0C769.3 886.3 775.1 886.7 779.0 886.0C782.9 885.3 785.0 882.8 789.0 881.0C793.0 879.2 796.2 876.8 803.0 875.0C809.8 873.2 818.8 872.5 830.0 870.0C841.2 867.5 859.0 862.5 870.0 860.0C881.0 857.5 890.5 855.7 896.0 855.0C901.5 854.3 900.5 857.0 903.0 856.0C905.5 855.0 909.2 851.9 911.0 849.0C912.8 846.1 914.5 842.2 914.0 838.4C913.5 834.6 910.5 829.2 908.0 826.0C905.5 822.8 901.9 820.2 898.7 819.0C895.5 817.8 892.5 818.1 889.0 819.0C885.5 819.9 887.8 822.1 878.0 824.6C868.2 827.1 846.7 830.8 830.0 834.0C813.3 837.2 788.5 841.9 777.7 844.0Z"/></clipPath>
<g clip-path="url(#clipCollar)"><path d="M750 862 C752 880 762 890 789 884 C820 874 860 866 898 857 C910 855 916 848 916 836" stroke="#a0a0a0" stroke-width="16" fill="none" filter="url(#blur2)" opacity="0.9"/><path d="M756 868 C800 866 860 850 912 836" stroke="#a4a4a4" stroke-width="9" fill="none" filter="url(#blur3)" opacity="0.8"/></g>
</g>
<g filter="url(#soft)" opacity="0.9">
<path d="M662 551 L742 538" stroke="#cfcfcf" stroke-width="14" stroke-linecap="round" filter="url(#blur2)"/>
<path d="M664 548 L740 536" stroke="#c0c0c0" stroke-width="4.5" stroke-linecap="round"/>
<circle cx="664" cy="548" r="7.5" fill="#c4c4c4" stroke="#b9b9b9" stroke-width="2.5"/>
<circle cx="740" cy="536" r="7.5" fill="#bcbcbc" stroke="#b0b0b0" stroke-width="2.5"/>
</g>
<g stroke="#ffffff" stroke-width="1.9" stroke-dasharray="1.9 3.03" fill="none" opacity="0.95">
<path d="M671.5 403 V453"/>
<path d="M325 618.8 H472"/>
<path d="M836.5 792.6 H1011"/>
</g>
<g transform="translate(671.5,472.6)"><circle r="17" fill="none" stroke="#12426f" stroke-width="5"/><path d="M-11.5 0H11.5M0 -11.5V11.5" stroke="#12426f" stroke-width="5" fill="none"/></g>
<g transform="translate(924.7,435.3)"><circle r="17" fill="none" stroke="#12426f" stroke-width="5"/><path d="M-11.5 0H11.5M0 -11.5V11.5" stroke="#12426f" stroke-width="5" fill="none"/></g>
<g transform="translate(491.7,618.4)"><circle r="17" fill="none" stroke="#12426f" stroke-width="5"/><path d="M-11.5 0H11.5M0 -11.5V11.5" stroke="#12426f" stroke-width="5" fill="none"/></g>
<g transform="translate(816.5,792.2)"><circle r="17" fill="none" stroke="#12426f" stroke-width="5"/><path d="M-11.5 0H11.5M0 -11.5V11.5" stroke="#12426f" stroke-width="5" fill="none"/></g>
<g transform="translate(71,1190) scale(0.1875)">
<path d="M93.8 587.1C94.4 559.6 96.9 531.9 101.1 504.8C105.4 477.7 111.2 450.4 119.3 424.3C127.4 398.2 137.3 372.3 149.8 348.2C162.2 324.2 177.1 300.8 194.2 280.0C211.3 259.2 231.1 240.1 252.4 223.4C273.6 206.8 297.3 192.6 321.6 180.2C345.9 167.9 371.9 158.0 398.0 149.5C424.1 141.0 451.2 134.5 478.2 129.1C505.3 123.6 532.8 119.9 560.4 116.8C587.9 113.7 615.6 111.8 643.3 110.3C671.1 108.7 698.9 107.8 726.6 107.3C754.4 106.9 782.2 106.8 810.0 107.5C837.7 108.1 865.5 109.3 893.2 111.3C920.8 113.4 948.5 116.1 976.0 119.8C1003.4 123.4 1030.9 127.8 1058.0 133.5C1085.1 139.2 1112.1 145.7 1138.4 153.9C1164.7 162.2 1191.0 171.5 1216.0 182.8C1241.0 194.0 1265.8 206.6 1288.7 221.5C1311.5 236.3 1333.6 253.0 1353.2 271.7C1372.8 290.4 1390.9 311.3 1406.2 333.6C1421.5 355.8 1434.6 380.2 1445.1 405.2C1455.6 430.1 1463.3 456.8 1469.1 483.4C1475.0 510.1 1478.3 537.7 1480.2 565.1C1482.0 592.5 1481.9 620.3 1480.3 647.7C1478.6 675.2 1475.3 702.8 1470.2 729.8C1465.0 756.7 1458.5 783.8 1449.4 809.5C1440.4 835.2 1429.4 860.7 1415.9 884.1C1402.4 907.6 1386.3 930.0 1368.3 950.2C1350.3 970.4 1329.7 988.9 1308.0 1005.3C1286.4 1021.6 1262.5 1035.9 1238.2 1048.4C1213.9 1061.0 1188.1 1071.4 1162.2 1080.6C1136.2 1089.8 1109.4 1097.2 1082.5 1103.5C1055.7 1109.8 1028.3 1114.6 1000.9 1118.5C973.5 1122.5 945.8 1125.2 918.2 1127.4C890.5 1129.6 862.7 1130.9 835.0 1131.8C807.2 1132.6 779.4 1132.9 751.7 1132.7C723.9 1132.5 696.1 1131.8 668.4 1130.4C640.6 1129.1 612.9 1127.4 585.3 1124.8C557.7 1122.2 530.0 1119.4 502.7 1115.0C475.5 1110.5 448.1 1105.5 421.8 1098.0C395.5 1090.4 369.3 1081.3 344.8 1069.6C320.3 1057.8 296.5 1043.8 274.9 1027.5C253.4 1011.2 233.2 992.2 215.4 971.8C197.7 951.5 181.9 928.7 168.2 905.1C154.6 881.6 143.2 856.3 133.6 830.6C123.9 805.0 116.4 778.2 110.4 751.4C104.3 724.6 99.9 697.1 97.1 669.7C94.3 642.3 93.1 614.6 93.8 587.1Z" fill="#e6e7e8" stroke="#2e2829" stroke-width="7.6"/>
<path d="M181.0 640.0C180.2 617.8 183.8 605.3 187.0 587.0C190.2 568.7 194.7 547.8 200.0 530.0C205.3 512.2 211.5 496.7 219.0 480.0C226.5 463.3 235.3 446.0 245.0 430.0C254.7 414.0 264.5 399.8 277.0 384.0C289.5 368.2 304.8 350.2 320.0 335.0C335.2 319.8 353.3 304.8 368.0 293.0C382.7 281.2 394.7 272.8 408.0 264.0C421.3 255.2 436.0 245.5 448.0 240.0C460.0 234.5 469.3 233.2 480.0 231.0C490.7 228.8 500.3 226.8 512.0 227.0C523.7 227.2 539.5 228.7 550.0 232.0C560.5 235.3 569.5 239.8 575.0 247.0C580.5 254.2 582.0 257.5 583.0 275.0C584.0 292.5 582.8 326.2 581.0 352.0C579.2 377.8 575.5 403.3 572.0 430.0C568.5 456.7 562.0 493.7 560.0 512.0C558.0 530.3 559.0 532.7 560.0 540.0C561.0 547.3 562.8 552.3 566.0 556.0C569.2 559.7 574.3 562.0 579.0 562.0C583.7 562.0 590.3 559.7 594.0 556.0C597.7 552.3 599.5 545.5 601.0 540.0C602.5 534.5 600.5 543.8 603.0 523.0C605.5 502.2 611.7 450.7 616.0 415.0C620.3 379.3 625.0 338.2 629.0 309.0C633.0 279.8 635.2 259.0 640.0 240.0C644.8 221.0 650.0 207.5 658.0 195.0C666.0 182.5 676.0 172.7 688.0 165.0C700.0 157.3 715.8 152.5 730.0 149.0C744.2 145.5 758.8 144.3 773.0 144.0C787.2 143.7 802.5 145.2 815.0 147.0C827.5 148.8 837.2 150.3 848.0 155.0C858.8 159.7 871.2 168.0 880.0 175.0C888.8 182.0 895.2 187.8 901.0 197.0C906.8 206.2 911.3 218.3 915.0 230.0C918.7 241.7 918.2 243.2 923.0 267.0C927.8 290.8 938.2 344.2 944.0 373.0C949.8 401.8 953.5 417.7 958.0 440.0C962.5 462.3 968.2 491.2 971.0 507.0C973.8 522.8 972.8 527.7 975.0 535.0C977.2 542.3 980.5 547.7 984.0 551.0C987.5 554.3 991.8 555.5 996.0 555.0C1000.2 554.5 1005.7 551.8 1009.0 548.0C1012.3 544.2 1014.8 536.3 1016.0 532.0C1017.2 527.7 1020.5 544.0 1016.0 522.0C1011.5 500.0 995.3 428.7 989.0 400.0C982.7 371.3 981.5 366.0 978.0 350.0C974.5 334.0 970.8 317.3 968.0 304.0C965.2 290.7 962.2 279.8 961.0 270.0C959.8 260.2 959.3 251.8 961.0 245.0C962.7 238.2 963.2 234.7 971.0 229.0C978.8 223.3 993.0 214.5 1008.0 211.0C1023.0 207.5 1045.7 207.3 1061.0 208.0C1076.3 208.7 1086.7 211.5 1100.0 215.0C1113.3 218.5 1127.7 223.2 1141.0 229.0C1154.3 234.8 1166.7 242.0 1180.0 250.0C1193.3 258.0 1202.5 262.7 1221.0 277.0C1239.5 291.3 1270.5 312.8 1291.0 336.0C1311.5 359.2 1329.8 390.2 1344.0 416.0C1358.2 441.8 1368.3 467.0 1376.0 491.0C1383.7 515.0 1387.2 540.2 1390.0 560.0C1392.8 579.8 1392.8 595.0 1393.0 610.0C1393.2 625.0 1392.3 636.2 1391.0 650.0C1389.7 663.8 1388.3 676.8 1385.0 693.0C1381.7 709.2 1378.7 726.5 1371.0 747.0C1363.3 767.5 1353.3 793.8 1339.0 816.0C1324.7 838.2 1304.7 860.5 1285.0 880.0C1265.3 899.5 1242.3 917.8 1221.0 933.0C1199.7 948.2 1178.3 961.2 1157.0 971.0C1135.7 980.8 1112.5 988.0 1093.0 992.0C1073.5 996.0 1055.0 996.8 1040.0 995.0C1025.0 993.2 1012.8 988.7 1003.0 981.0C993.2 973.3 985.5 961.3 981.0 949.0C976.5 936.7 977.7 940.7 976.0 907.0C974.3 873.3 972.3 779.0 971.0 747.0C969.7 715.0 970.2 724.2 968.0 715.0C965.8 705.8 965.2 697.8 958.0 692.0C950.8 686.2 935.7 680.0 925.0 680.0C914.3 680.0 901.0 685.7 894.0 692.0C887.0 698.3 884.3 709.2 883.0 718.0C881.7 726.8 882.3 738.3 886.0 745.0C889.7 751.7 899.8 755.7 905.0 758.0C910.2 760.3 912.5 757.2 917.0 759.0C921.5 760.8 928.7 764.0 932.0 769.0C935.3 774.0 937.0 782.3 937.0 789.0C937.0 795.7 935.3 804.0 932.0 809.0C928.7 814.0 921.5 817.2 917.0 819.0C912.5 820.8 908.7 818.5 905.0 820.0C901.3 821.5 897.0 824.2 895.0 828.0C893.0 831.8 893.0 837.7 893.0 842.5C893.0 847.3 893.0 853.2 895.0 857.0C897.0 860.8 901.3 863.5 905.0 865.0C908.7 866.5 912.5 864.2 917.0 866.0C921.5 867.8 928.7 871.0 932.0 876.0C935.3 881.0 937.0 889.3 937.0 896.0C937.0 902.7 935.3 911.0 932.0 916.0C928.7 921.0 921.5 924.2 917.0 926.0C912.5 927.8 908.7 925.5 905.0 927.0C901.3 928.5 897.0 931.4 895.0 935.0C893.0 938.6 893.0 944.0 893.0 948.5C893.0 953.0 893.0 958.4 895.0 962.0C897.0 965.6 900.7 968.5 905.0 970.0C909.3 971.5 915.8 969.2 921.0 971.0C926.2 972.8 932.7 976.0 936.0 981.0C939.3 986.0 941.0 994.3 941.0 1001.0C941.0 1007.7 939.3 1016.0 936.0 1021.0C932.7 1026.0 926.2 1029.2 921.0 1031.0C915.8 1032.8 909.3 1030.5 905.0 1032.0C900.7 1033.5 897.0 1036.8 895.0 1040.0C893.0 1043.2 893.0 1047.3 893.0 1051.0C893.0 1054.7 893.0 1058.8 895.0 1062.0C897.0 1065.2 899.5 1068.5 905.0 1070.0C910.5 1071.5 921.7 1069.2 928.0 1071.0C934.3 1072.8 939.7 1075.3 943.0 1081.0C946.3 1086.7 948.0 1097.0 948.0 1105.0C948.0 1113.0 946.3 1123.3 943.0 1129.0C939.7 1134.7 934.3 1137.2 928.0 1139.0C921.7 1140.8 910.8 1139.7 905.0 1140.0C899.2 1140.3 897.0 1140.7 893.0 1141.0C886.0 1176.3 878.0 1214.3 872.0 1247.0C866.0 1279.7 861.0 1314.5 857.0 1337.0C853.0 1359.5 851.5 1371.0 848.0 1382.0C844.5 1393.0 843.0 1397.0 836.0 1403.0C829.0 1409.0 814.5 1416.8 806.0 1418.0C797.5 1419.2 790.5 1414.0 785.0 1410.0C779.5 1406.0 777.0 1401.2 773.0 1394.0C769.0 1386.8 765.0 1379.0 761.0 1367.0C757.0 1355.0 754.0 1342.0 749.0 1322.0C744.0 1302.0 736.8 1276.2 731.0 1247.0C725.2 1217.8 719.7 1180.3 714.0 1147.0C708.0 1147.0 702.2 1147.2 696.0 1147.0C689.8 1146.8 682.7 1147.8 677.0 1146.0C671.3 1144.2 665.3 1141.8 662.0 1136.0C658.7 1130.2 657.0 1119.3 657.0 1111.0C657.0 1102.7 658.7 1091.8 662.0 1086.0C665.3 1080.2 671.3 1077.8 677.0 1076.0C682.7 1074.2 691.2 1076.5 696.0 1075.0C700.8 1073.5 704.0 1069.8 706.0 1067.0C708.0 1064.2 708.0 1061.0 708.0 1058.0C708.0 1055.0 708.0 1051.8 706.0 1049.0C704.0 1046.2 701.8 1042.5 696.0 1041.0C690.2 1039.5 677.7 1041.8 671.0 1040.0C664.3 1038.2 659.3 1035.0 656.0 1030.0C652.7 1025.0 651.0 1016.7 651.0 1010.0C651.0 1003.3 652.7 995.0 656.0 990.0C659.3 985.0 664.3 981.8 671.0 980.0C677.7 978.2 690.2 980.5 696.0 979.0C701.8 977.5 704.0 974.7 706.0 971.0C708.0 967.3 708.0 961.7 708.0 957.0C708.0 952.3 708.0 946.7 706.0 943.0C704.0 939.3 702.3 936.5 696.0 935.0C689.7 933.5 675.2 935.8 668.0 934.0C660.8 932.2 656.3 929.0 653.0 924.0C649.7 919.0 648.0 910.7 648.0 904.0C648.0 897.3 649.7 889.0 653.0 884.0C656.3 879.0 660.8 875.8 668.0 874.0C675.2 872.2 689.7 874.5 696.0 873.0C702.3 871.5 704.0 868.9 706.0 865.0C708.0 861.1 708.0 854.7 708.0 849.5C708.0 844.3 708.0 837.9 706.0 834.0C704.0 830.1 702.3 827.5 696.0 826.0C689.7 824.5 675.2 826.8 668.0 825.0C660.8 823.2 656.3 820.0 653.0 815.0C649.7 810.0 648.0 801.7 648.0 795.0C648.0 788.3 649.7 780.0 653.0 775.0C656.3 770.0 660.8 766.8 668.0 765.0C675.2 763.2 689.7 766.2 696.0 764.0C702.3 761.8 704.7 758.5 706.0 752.0C707.3 745.5 706.3 733.8 704.0 725.0C701.7 716.2 700.0 705.2 692.0 699.0C684.0 692.8 667.3 688.0 656.0 688.0C644.7 688.0 631.8 692.0 624.0 699.0C616.2 706.0 611.5 713.2 609.0 730.0C606.5 746.8 608.3 770.5 609.0 800.0C609.7 829.5 611.8 880.3 613.0 907.0C614.2 933.7 616.2 947.0 616.0 960.0C615.8 973.0 614.2 977.8 612.0 985.0C609.8 992.2 607.5 997.5 603.0 1003.0C598.5 1008.5 592.2 1014.5 585.0 1018.0C577.8 1021.5 569.2 1023.2 560.0 1024.0C550.8 1024.8 539.8 1023.8 530.0 1023.0C520.2 1022.2 519.2 1024.2 501.0 1019.0C482.8 1013.8 447.7 1004.5 421.0 992.0C394.3 979.5 365.0 961.8 341.0 944.0C317.0 926.2 296.5 907.2 277.0 885.0C257.5 862.8 238.2 838.5 224.0 811.0C209.8 783.5 199.2 748.5 192.0 720.0C184.8 691.5 181.8 662.2 181.0 640.0Z" fill="#a7a9ac" stroke="#2e2829" stroke-width="7.2" stroke-linejoin="round"/>
<path d="M712 472 H848" stroke="#2e2829" stroke-width="17" fill="none"/>
<circle cx="712" cy="472" r="14.5" fill="#f2f2f3" stroke="#2e2829" stroke-width="6.5"/>
<circle cx="848" cy="472" r="14.5" fill="#f2f2f3" stroke="#2e2829" stroke-width="6.5"/>
<path d="M724 472 H836" stroke="#e4e5e6" stroke-width="5" fill="none"/>
</g>
<g transform="translate(415,1190) scale(0.1875)">
<path d="M629.0 1130.0C633.0 1135.3 634.0 1143.0 641.0 1146.0C648.0 1149.0 661.0 1147.3 671.0 1148.0C672.5 1150.0 672.3 1137.5 675.5 1154.0C678.7 1170.5 685.2 1219.0 690.0 1247.0C694.8 1275.0 699.8 1301.0 704.0 1322.0C708.2 1343.0 711.5 1360.0 715.0 1373.0C718.5 1386.0 719.8 1392.0 725.0 1400.0C730.2 1408.0 739.0 1416.8 746.0 1421.0C753.0 1425.2 760.0 1425.5 767.0 1425.0C774.0 1424.5 782.0 1423.2 788.0 1418.0C794.0 1412.8 799.0 1405.0 803.0 1394.0C807.0 1383.0 807.5 1374.0 812.0 1352.0C816.5 1330.0 824.0 1289.5 830.0 1262.0C836.0 1234.5 843.5 1205.0 848.0 1187.0C852.5 1169.0 854.5 1160.3 857.0 1154.0C859.5 1147.7 861.0 1150.7 863.0 1149.0C873.0 1148.7 885.5 1151.2 893.0 1148.0C900.5 1144.8 903.0 1136.0 908.0 1130.0C815.0 1130.0 722.0 1130.0 629.0 1130.0Z" fill="#d5d6d8" stroke="#8a8a8c" stroke-width="5"/>
<path d="M1032.0 656.0C1044.7 664.7 1055.3 674.0 1070.0 682.0C1084.7 690.0 1093.8 695.8 1120.0 704.0C1146.2 712.2 1191.5 725.2 1227.0 731.0C1262.5 736.8 1297.5 740.0 1333.0 739.0C1368.5 738.0 1404.3 729.7 1440.0 725.0C1436.3 750.0 1431.2 774.2 1429.0 800.0C1426.8 825.8 1426.0 855.2 1427.0 880.0C1428.0 904.8 1430.2 925.0 1435.0 949.0C1439.8 973.0 1448.0 999.0 1456.0 1024.0C1464.0 1049.0 1473.2 1076.3 1483.0 1099.0C1492.8 1121.7 1504.3 1139.7 1515.0 1160.0C1456.3 1113.7 1397.7 1067.3 1339.0 1021.0C1301.7 984.7 1263.5 947.0 1227.0 912.0C1190.5 877.0 1155.7 844.7 1120.0 811.0C1098.7 786.0 1070.7 761.8 1056.0 736.0C1041.3 710.2 1040.0 682.7 1032.0 656.0Z" fill="#d9dadb"/>
<path d="M603.0 821.0C633.0 825.7 660.2 833.2 693.0 835.0C725.8 836.8 764.3 835.7 800.0 832.0C835.7 828.3 877.7 820.0 907.0 813.0C936.3 806.0 956.5 798.3 976.0 790.0C995.5 781.7 1008.0 772.0 1024.0 763.0C1022.3 778.7 1024.7 795.0 1019.0 810.0C1013.3 825.0 999.7 838.7 990.0 853.0C864.3 943.7 738.7 1034.3 613.0 1125.0C585.7 1136.7 558.3 1148.3 531.0 1160.0C537.0 1150.3 541.5 1144.8 549.0 1131.0C556.5 1117.2 567.0 1098.3 576.0 1077.0C585.0 1055.7 596.3 1031.3 603.0 1003.0C609.7 974.7 616.0 937.3 616.0 907.0C616.0 876.7 607.3 849.7 603.0 821.0Z" fill="#d9dadb"/>
<path d="M92.7 587.2C94.0 559.4 96.6 531.4 101.1 504.1C105.7 476.7 111.6 449.2 119.9 422.9C128.2 396.6 138.2 370.5 150.9 346.3C163.6 322.1 178.8 298.7 196.2 277.8C213.6 257.0 233.9 237.8 255.4 221.3C277.0 204.7 301.2 190.5 325.8 178.3C350.4 166.1 376.7 156.4 403.1 148.0C429.6 139.6 456.9 133.3 484.3 128.0C511.6 122.7 539.5 119.1 567.3 116.1C595.1 113.1 623.1 111.4 651.1 109.9C679.0 108.4 707.1 107.6 735.1 107.2C763.1 106.9 791.2 106.9 819.2 107.7C847.2 108.5 875.2 109.9 903.1 112.2C931.1 114.4 959.0 117.3 986.7 121.3C1014.3 125.2 1042.0 129.9 1069.3 135.9C1096.5 142.0 1123.7 149.0 1150.1 157.7C1176.5 166.4 1202.8 176.3 1227.8 188.2C1252.8 200.1 1277.4 213.5 1300.0 229.1C1322.6 244.7 1344.3 262.3 1363.3 281.9C1382.4 301.4 1399.8 323.2 1414.4 346.3C1428.9 369.3 1441.1 394.4 1450.7 420.0C1460.4 445.6 1467.2 472.8 1472.4 499.9C1477.5 527.0 1480.3 555.0 1481.8 582.7C1483.3 610.4 1483.0 638.5 1481.4 666.3C1479.8 694.1 1476.8 722.0 1472.0 749.4C1467.3 776.7 1461.2 804.1 1452.6 830.3C1444.1 856.5 1433.6 882.4 1420.5 906.4C1407.5 930.4 1391.9 953.6 1374.2 974.1C1356.4 994.6 1335.9 1013.4 1314.0 1029.6C1292.1 1045.7 1267.7 1059.4 1242.8 1071.0C1218.0 1082.5 1191.4 1091.5 1164.7 1099.1C1138.1 1106.6 1110.5 1111.8 1083.0 1116.2C1055.5 1120.6 1027.5 1123.1 999.6 1125.3C971.8 1127.6 943.7 1128.6 915.7 1129.6C887.7 1130.7 859.6 1131.0 831.6 1131.4C803.5 1131.8 775.4 1131.9 747.4 1131.8C719.3 1131.8 691.3 1131.8 663.2 1131.3C635.2 1130.7 607.1 1130.3 579.2 1128.6C551.3 1126.9 523.3 1125.1 495.7 1121.1C468.2 1117.1 440.6 1112.2 414.1 1104.6C387.6 1097.0 361.2 1087.6 336.6 1075.6C311.9 1063.7 288.0 1049.3 266.2 1032.8C244.4 1016.3 224.0 997.2 206.0 976.7C188.0 956.1 171.9 933.2 158.3 909.5C144.6 885.7 133.4 860.1 124.2 834.2C115.0 808.2 108.4 781.0 103.3 753.8C98.1 726.6 95.1 698.6 93.3 670.9C91.6 643.1 91.4 615.0 92.7 587.2Z" fill="#e6e7e8"/>
<clipPath id="clipOut2"><path d="M92.7 587.2C94.0 559.4 96.6 531.4 101.1 504.1C105.7 476.7 111.6 449.2 119.9 422.9C128.2 396.6 138.2 370.5 150.9 346.3C163.6 322.1 178.8 298.7 196.2 277.8C213.6 257.0 233.9 237.8 255.4 221.3C277.0 204.7 301.2 190.5 325.8 178.3C350.4 166.1 376.7 156.4 403.1 148.0C429.6 139.6 456.9 133.3 484.3 128.0C511.6 122.7 539.5 119.1 567.3 116.1C595.1 113.1 623.1 111.4 651.1 109.9C679.0 108.4 707.1 107.6 735.1 107.2C763.1 106.9 791.2 106.9 819.2 107.7C847.2 108.5 875.2 109.9 903.1 112.2C931.1 114.4 959.0 117.3 986.7 121.3C1014.3 125.2 1042.0 129.9 1069.3 135.9C1096.5 142.0 1123.7 149.0 1150.1 157.7C1176.5 166.4 1202.8 176.3 1227.8 188.2C1252.8 200.1 1277.4 213.5 1300.0 229.1C1322.6 244.7 1344.3 262.3 1363.3 281.9C1382.4 301.4 1399.8 323.2 1414.4 346.3C1428.9 369.3 1441.1 394.4 1450.7 420.0C1460.4 445.6 1467.2 472.8 1472.4 499.9C1477.5 527.0 1480.3 555.0 1481.8 582.7C1483.3 610.4 1483.0 638.5 1481.4 666.3C1479.8 694.1 1476.8 722.0 1472.0 749.4C1467.3 776.7 1461.2 804.1 1452.6 830.3C1444.1 856.5 1433.6 882.4 1420.5 906.4C1407.5 930.4 1391.9 953.6 1374.2 974.1C1356.4 994.6 1335.9 1013.4 1314.0 1029.6C1292.1 1045.7 1267.7 1059.4 1242.8 1071.0C1218.0 1082.5 1191.4 1091.5 1164.7 1099.1C1138.1 1106.6 1110.5 1111.8 1083.0 1116.2C1055.5 1120.6 1027.5 1123.1 999.6 1125.3C971.8 1127.6 943.7 1128.6 915.7 1129.6C887.7 1130.7 859.6 1131.0 831.6 1131.4C803.5 1131.8 775.4 1131.9 747.4 1131.8C719.3 1131.8 691.3 1131.8 663.2 1131.3C635.2 1130.7 607.1 1130.3 579.2 1128.6C551.3 1126.9 523.3 1125.1 495.7 1121.1C468.2 1117.1 440.6 1112.2 414.1 1104.6C387.6 1097.0 361.2 1087.6 336.6 1075.6C311.9 1063.7 288.0 1049.3 266.2 1032.8C244.4 1016.3 224.0 997.2 206.0 976.7C188.0 956.1 171.9 933.2 158.3 909.5C144.6 885.7 133.4 860.1 124.2 834.2C115.0 808.2 108.4 781.0 103.3 753.8C98.1 726.6 95.1 698.6 93.3 670.9C91.6 643.1 91.4 615.0 92.7 587.2Z"/></clipPath>
<g clip-path="url(#clipOut2)">
<path d="M603.0 821.0C633.0 825.7 660.2 833.2 693.0 835.0C725.8 836.8 764.3 835.7 800.0 832.0C835.7 828.3 877.7 820.0 907.0 813.0C936.3 806.0 956.5 798.3 976.0 790.0C995.5 781.7 1008.0 772.0 1024.0 763.0C1022.3 778.7 1024.7 795.0 1019.0 810.0C1013.3 825.0 999.7 838.7 990.0 853.0C864.3 943.7 738.7 1034.3 613.0 1125.0C585.7 1136.7 558.3 1148.3 531.0 1160.0C537.0 1150.3 541.5 1144.8 549.0 1131.0C556.5 1117.2 567.0 1098.3 576.0 1077.0C585.0 1055.7 596.3 1031.3 603.0 1003.0C609.7 974.7 616.0 937.3 616.0 907.0C616.0 876.7 607.3 849.7 603.0 821.0Z" fill="#c4c5c7" stroke="#f4f4f4" stroke-width="4"/>
<path d="M1032.0 656.0C1044.7 664.7 1055.3 674.0 1070.0 682.0C1084.7 690.0 1093.8 695.8 1120.0 704.0C1146.2 712.2 1191.5 725.2 1227.0 731.0C1262.5 736.8 1297.5 740.0 1333.0 739.0C1368.5 738.0 1404.3 729.7 1440.0 725.0C1436.3 750.0 1431.2 774.2 1429.0 800.0C1426.8 825.8 1426.0 855.2 1427.0 880.0C1428.0 904.8 1430.2 925.0 1435.0 949.0C1439.8 973.0 1448.0 999.0 1456.0 1024.0C1464.0 1049.0 1473.2 1076.3 1483.0 1099.0C1492.8 1121.7 1504.3 1139.7 1515.0 1160.0C1456.3 1113.7 1397.7 1067.3 1339.0 1021.0C1301.7 984.7 1263.5 947.0 1227.0 912.0C1190.5 877.0 1155.7 844.7 1120.0 811.0C1098.7 786.0 1070.7 761.8 1056.0 736.0C1041.3 710.2 1040.0 682.7 1032.0 656.0Z" fill="#c4c5c7" stroke="#f4f4f4" stroke-width="4"/>
<path d="M1034.7 677.0C1032.8 705.7 1032.5 740.0 1029.0 763.0C1025.5 786.0 1020.5 800.0 1014.0 815.0C1007.5 830.0 998.0 840.3 990.0 853.0C864.3 943.7 738.7 1034.3 613.0 1125.0C639.7 1127.3 661.8 1130.8 693.0 1132.0C724.2 1133.2 764.3 1132.2 800.0 1132.0C835.7 1131.8 871.5 1131.9 907.0 1131.0C942.5 1130.1 977.5 1129.2 1013.0 1126.5C1048.5 1123.8 1088.0 1120.6 1120.0 1115.0C1152.0 1109.4 1178.3 1102.0 1205.0 1093.0C1231.7 1084.0 1257.7 1073.0 1280.0 1061.0C1302.3 1049.0 1319.3 1034.3 1339.0 1021.0C1301.7 984.7 1263.5 947.0 1227.0 912.0C1190.5 877.0 1155.7 844.7 1120.0 811.0C1098.7 786.0 1070.2 758.3 1056.0 736.0C1041.8 713.7 1041.8 696.7 1034.7 677.0Z" fill="#ef5076"/>
<path d="M990 853 L613 1125 M1120 811 L1339 1021" stroke="#8d8d8f" stroke-width="2.5" fill="none"/>
</g>
<path d="M1030 124 V652" stroke="#ffffff" stroke-width="5.5" fill="none"/>
<path d="M92.7 587.2C94.0 559.4 96.6 531.4 101.1 504.1C105.7 476.7 111.6 449.2 119.9 422.9C128.2 396.6 138.2 370.5 150.9 346.3C163.6 322.1 178.8 298.7 196.2 277.8C213.6 257.0 233.9 237.8 255.4 221.3C277.0 204.7 301.2 190.5 325.8 178.3C350.4 166.1 376.7 156.4 403.1 148.0C429.6 139.6 456.9 133.3 484.3 128.0C511.6 122.7 539.5 119.1 567.3 116.1C595.1 113.1 623.1 111.4 651.1 109.9C679.0 108.4 707.1 107.6 735.1 107.2C763.1 106.9 791.2 106.9 819.2 107.7C847.2 108.5 875.2 109.9 903.1 112.2C931.1 114.4 959.0 117.3 986.7 121.3C1014.3 125.2 1042.0 129.9 1069.3 135.9C1096.5 142.0 1123.7 149.0 1150.1 157.7C1176.5 166.4 1202.8 176.3 1227.8 188.2C1252.8 200.1 1277.4 213.5 1300.0 229.1C1322.6 244.7 1344.3 262.3 1363.3 281.9C1382.4 301.4 1399.8 323.2 1414.4 346.3C1428.9 369.3 1441.1 394.4 1450.7 420.0C1460.4 445.6 1467.2 472.8 1472.4 499.9C1477.5 527.0 1480.3 555.0 1481.8 582.7C1483.3 610.4 1483.0 638.5 1481.4 666.3C1479.8 694.1 1476.8 722.0 1472.0 749.4C1467.3 776.7 1461.2 804.1 1452.6 830.3C1444.1 856.5 1433.6 882.4 1420.5 906.4C1407.5 930.4 1391.9 953.6 1374.2 974.1C1356.4 994.6 1335.9 1013.4 1314.0 1029.6C1292.1 1045.7 1267.7 1059.4 1242.8 1071.0C1218.0 1082.5 1191.4 1091.5 1164.7 1099.1C1138.1 1106.6 1110.5 1111.8 1083.0 1116.2C1055.5 1120.6 1027.5 1123.1 999.6 1125.3C971.8 1127.6 943.7 1128.6 915.7 1129.6C887.7 1130.7 859.6 1131.0 831.6 1131.4C803.5 1131.8 775.4 1131.9 747.4 1131.8C719.3 1131.8 691.3 1131.8 663.2 1131.3C635.2 1130.7 607.1 1130.3 579.2 1128.6C551.3 1126.9 523.3 1125.1 495.7 1121.1C468.2 1117.1 440.6 1112.2 414.1 1104.6C387.6 1097.0 361.2 1087.6 336.6 1075.6C311.9 1063.7 288.0 1049.3 266.2 1032.8C244.4 1016.3 224.0 997.2 206.0 976.7C188.0 956.1 171.9 933.2 158.3 909.5C144.6 885.7 133.4 860.1 124.2 834.2C115.0 808.2 108.4 781.0 103.3 753.8C98.1 726.6 95.1 698.6 93.3 670.9C91.6 643.1 91.4 615.0 92.7 587.2Z" fill="none" stroke="#2e2829" stroke-width="7.4"/>
<path d="M1440 725 L1429 800 L1427 880 L1435 949 L1456 1024 L1483 1099" stroke="#f4f4f4" stroke-width="4" fill="none"/>
<path d="M603 821 L616 907 L603 1003 L576 1077 L549 1131" stroke="#f4f4f4" stroke-width="4" fill="none"/>
</g>
</svg>
</div>
</body>
</html>
